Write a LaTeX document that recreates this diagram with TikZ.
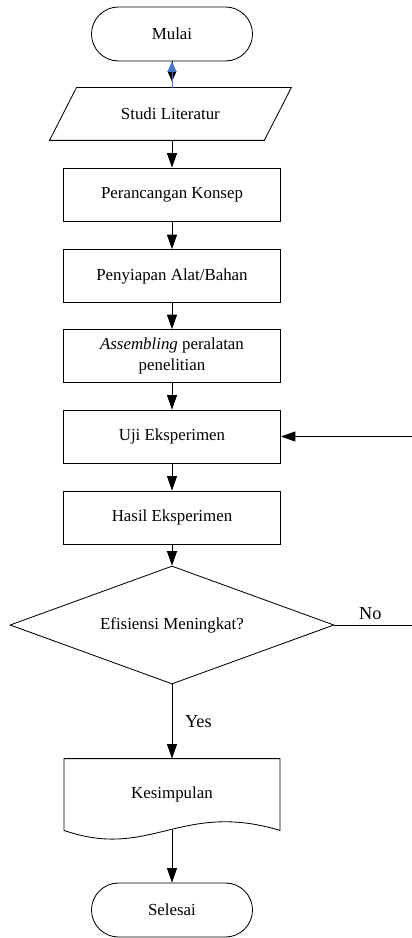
\documentclass[tikz,border=0pt]{standalone}
\usepackage{fontspec}
\setmainfont{Liberation Serif}
\usepackage{xcolor}
\usetikzlibrary{arrows.meta,positioning,calc,shapes.geometric}
\definecolor{panahbiru}{RGB}{68,114,196}

\begin{document}
\begin{tikzpicture}[
    >={Triangle[length=0.36cm, width=0.25cm]},
    line width=0.6pt,
    every node/.style={font=\fontsize{12}{14.5}\selectfont},
    term/.style={draw, rounded corners=0.675cm, minimum width=4.025cm, minimum height=1.35cm, align=center},
    io/.style={minimum width=6.025cm, minimum height=1.3cm, align=center},
    proc/.style={draw, minimum width=5.425cm, minimum height=1.325cm, align=center},
    decide/.style={draw, diamond, aspect=2.75, minimum width=8.1cm, minimum height=2.95cm, inner sep=1pt, align=center},
    doc/.style={minimum width=5.375cm, minimum height=1.775cm, align=center},
    lbl/.style={font=\fontsize{13}{15}\selectfont},
    kecil/.style={>={Triangle[length=0.26cm, width=0.22cm]}}
]
\useasboundingbox (-4.3,0) rectangle (5.975,-23.45);
\node[term]   (mulai)   at (0,-0.85)      {Mulai};
\node[io]     (studi)   at (-0.04,-2.85)  {Studi Literatur};
\node[proc]   (konsep)  at (0,-4.8625)    {Perancangan Konsep};
\node[proc]   (alat)    at (0,-6.9)       {Penyiapan Alat/Bahan};
\node[proc]   (rakit)   at (0,-8.9)       {\textit{Assembling} peralatan\\penelitian};
\node[proc]   (uji)     at (0,-10.9125)   {Uji Eksperimen};
\node[proc]   (hasil)   at (0,-12.9375)   {Hasil Eksperimen};
\node[decide] (cek)     at (0,-15.625)    {Efisiensi Meningkat?};
\node[doc]    (simpul)  at (0,-19.8625)   {Kesimpulan};
\node[term]   (selesai) at (0,-22.75)     {Selesai};
\coordinate (balik) at (6.1,-10.9125);
% parallelogram outline
\draw (studi.south west) -- ($(studi.north west)+(0.675,0)$) -- (studi.north east)
    -- ($(studi.south east)+(-0.675,0)$) -- cycle;
% document outline with wavy bottom
\draw (simpul.south west) -- (simpul.north west) -- (simpul.north east) -- (simpul.south east)
    .. controls +(-2.475,0.75) and +(2.15,-0.75) .. (simpul.south west);
\draw[->, kecil, shorten >=0.15cm] (mulai.south) -- (mulai.south |- studi.north);
\draw[->, kecil, panahbiru] (mulai.south |- studi.north) -- (mulai.south);
\draw[->] (mulai.south |- studi.south) -- (konsep.north);
\draw[->] (konsep.south) -- (alat.north);
\draw[->] (alat.south) -- (rakit.north);
\draw[->] (rakit.south) -- (uji.north);
\draw[->] (uji.south) -- (hasil.north);
\draw[->] (hasil.south) -- (cek.north);
\draw[->] (cek.south) -- node[lbl, right, xshift=0.2cm] {Yes} (simpul.north);
\draw[->] (simpul.south) -- (selesai.north);
\draw[->] (cek.east) -| node[lbl, pos=0.22, above] {No} (balik) -- (uji.east);
\end{tikzpicture}
\end{document}
